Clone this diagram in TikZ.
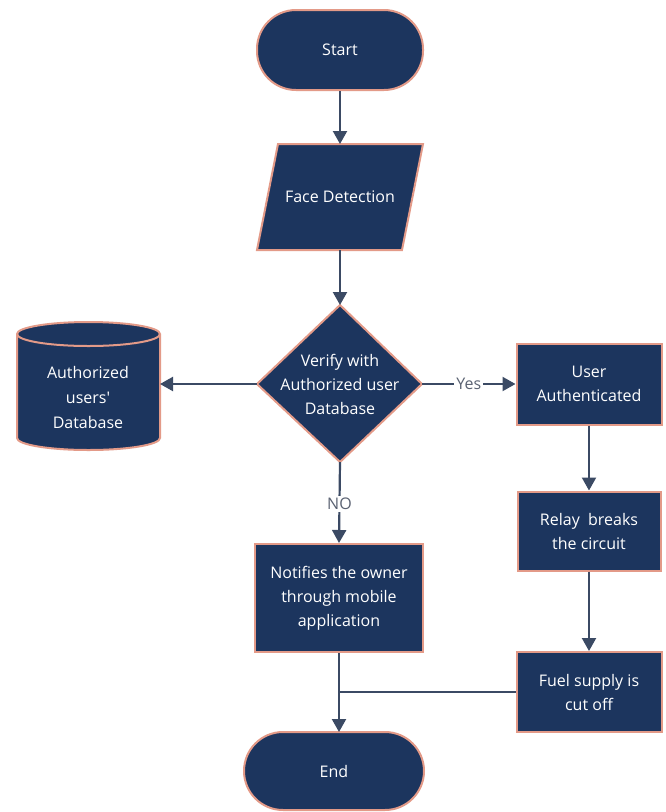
\documentclass[tikz,border=0pt]{standalone}
\usepackage{fontspec}
\setmainfont{Open Sans}
\usetikzlibrary{arrows.meta}
\definecolor{navy}{HTML}{1C355E}
\definecolor{salmon}{HTML}{E39A88}
\definecolor{lineC}{HTML}{3B4A64}
\definecolor{labC}{HTML}{5A6272}
\begin{document}
\begin{tikzpicture}[x=1pt,y=-1pt,
  box/.style={draw=salmon, line width=2pt, fill=navy, text=white, align=center, font=\fontsize{16}{24}\selectfont, inner sep=0pt},
  term/.style={box, rounded corners=39pt},
  txt/.style={text=white, align=center, font=\fontsize{16}{24}\selectfont},
  conn/.style={draw=lineC, line width=2.2pt, -{Triangle[width=14pt,length=13pt]}},
  plain/.style={draw=lineC, line width=2.2pt},
  lab/.style={fill=white, text=labC, font=\fontsize{16}{18}\selectfont, inner sep=2pt}]
\useasboundingbox (0,0) rectangle (666,812);
% Start
\node[term, minimum width=166pt, minimum height=80pt] (start) at (340,50) {Start};
% Face detection parallelogram
\draw[draw=salmon, line width=2pt, fill=navy] (278,144) -- (423,144) -- (402,250) -- (257,250) -- cycle;
\node[txt] (face) at (340,197) {Face Detection};
\coordinate (faceN) at (340,144);
\coordinate (faceS) at (340,250);
% Decision diamond
\draw[draw=salmon, line width=2pt, fill=navy] (340,305) -- (422,384) -- (340,462) -- (257,384) -- cycle;
\node[txt] (dia) at (340,384) {Verify with\\Authorized user\\Database};
\coordinate (diaN) at (340,305);
\coordinate (diaS) at (340,462);
\coordinate (diaW) at (257,384);
\coordinate (diaE) at (422,384);
% Database cylinder
\draw[draw=salmon, line width=2pt, fill=navy] (17,334) -- (17,438) arc[start angle=180, end angle=0, x radius=71.5, y radius=12] -- (160,334) arc[start angle=0, end angle=-180, x radius=71.5, y radius=12] -- cycle;
\draw[draw=salmon, line width=2pt] (17,334) arc[start angle=180, end angle=0, x radius=71.5, y radius=12];
\node[txt, font=\fontsize{16}{25}\selectfont] (db) at (88,397) {Authorized\\users\textquotesingle\\Database};
\coordinate (dbE) at (160,384);
% Right column
\node[box, minimum width=145pt, minimum height=81pt] (ua) at (589,384) {User\\Authenticated};
\node[box, minimum width=143pt, minimum height=79pt] (relay) at (589,531) {Relay\ \ breaks\\the circuit};
\node[box, minimum width=145pt, minimum height=80pt] (fuel) at (589,692) {Fuel supply is\\cut off};
% Notify
\node[box, minimum width=168pt, minimum height=108pt] (notif) at (339,598) {Notifies the owner\\through mobile\\application};
% End
\node[term, minimum width=180pt, minimum height=78pt] (end) at (334,771) {End};
\coordinate (endN) at (339,732);
\coordinate (join) at (339,692);
% Connectors
\draw[conn] (start.south) -- (faceN);
\draw[conn] (faceS) -- (diaN);
\draw[conn] (diaW) -- (dbE);
\draw[conn] (diaE) -- node[lab, pos=0.5] (yes) {Yes} (ua.west);
\draw[conn] (ua.south) -- (relay.north);
\draw[conn] (relay.south) -- (fuel.north);
\draw[conn] (diaS) -- node[lab, pos=0.52] (no) {NO} (notif.north);
\draw[conn] (notif.south) -- (endN);
\draw[plain] (fuel.west) -- (join);
\end{tikzpicture}
\end{document}
